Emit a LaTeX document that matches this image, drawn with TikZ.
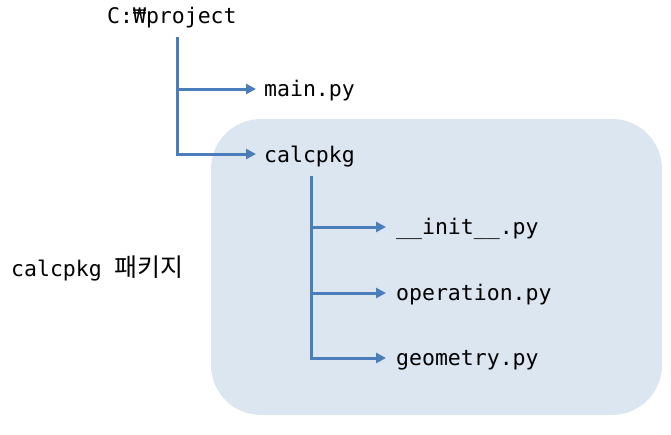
\documentclass[tikz,border=0pt]{standalone}
\usepackage{fontspec}
\setmonofont{DejaVu Sans Mono}
\newfontfamily\krfont{Noto Sans CJK KR}
\usetikzlibrary{arrows.meta}
\definecolor{pkgbg}{HTML}{DCE6F1}
\definecolor{linec}{HTML}{4A7EBB}
\begin{document}
\begin{tikzpicture}[x=1pt,y=-1pt,
  lbl/.style={anchor=west,inner sep=0pt,font=\ttfamily\fontsize{21.5}{24}\selectfont},
  conn/.style={draw=linec,line width=3pt,-{Triangle[length=10pt,width=10pt]}},
  trunk/.style={draw=linec,line width=3pt}]
\useasboundingbox (0,0) rectangle (671,434);
\fill[pkgbg,rounded corners=50pt] (211,119) rectangle (662,415);
\node[lbl] (root) at (107,18) {C:₩project};
\node[lbl] (main) at (264,91) {main.py};
\node[lbl] (calc) at (264,157) {calcpkg};
\node[lbl] (init) at (396,229) {\_\_init\_\_.py};
\node[lbl] (oper) at (396,295) {operation.py};
\node[lbl] (geom) at (396,360) {geometry.py};
\node[lbl] (pkg) at (11,268) {calcpkg {\krfont\fontsize{25}{28}\selectfont 패키지}};
\coordinate (r0) at (177,37);
\coordinate (r1) at (177,89);
\coordinate (r2) at (177,154);
\coordinate (c0) at (311,176);
\coordinate (c1) at (311,227);
\coordinate (c2) at (311,293);
\coordinate (c3) at (311,358);
\draw[trunk] (r0) -- (r2);
\path[conn] ([xshift=-1.5pt]r1) -- ([xshift=-8pt]r1 -| main.west);
\path[conn] ([xshift=-1.5pt]r2) -- ([xshift=-8pt]r2 -| calc.west);
\draw[trunk] (c0) -- (c3);
\path[conn] ([xshift=-1.5pt]c1) -- ([xshift=-10pt]c1 -| init.west);
\path[conn] ([xshift=-1.5pt]c2) -- ([xshift=-10pt]c2 -| oper.west);
\path[conn] ([xshift=-1.5pt]c3) -- ([xshift=-10pt]c3 -| geom.west);
\end{tikzpicture}
\end{document}
